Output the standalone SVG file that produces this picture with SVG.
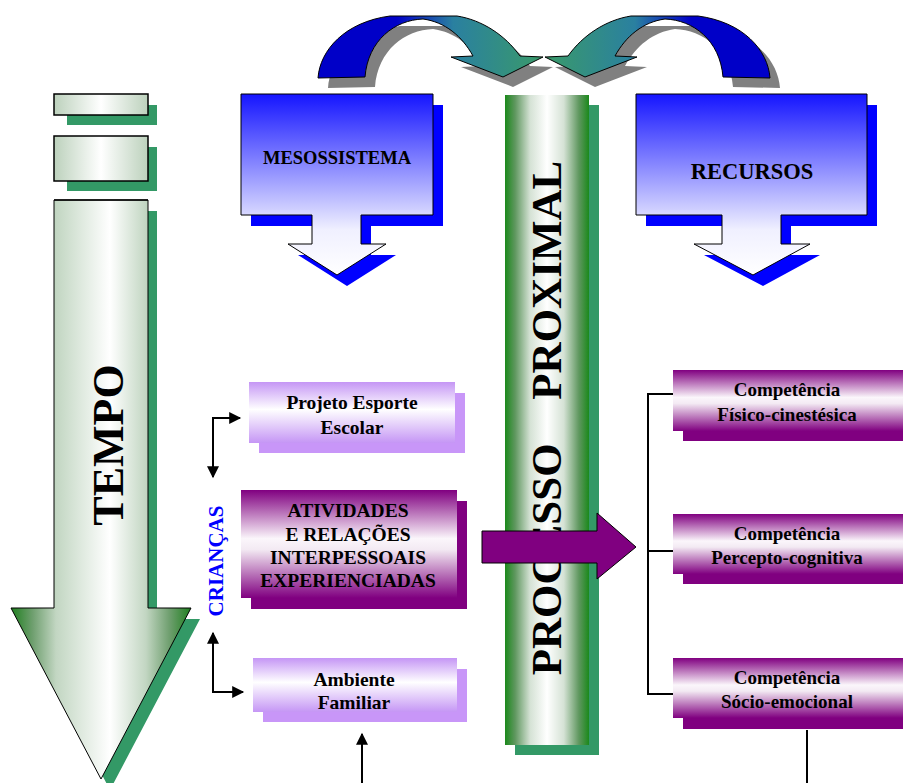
<svg xmlns="http://www.w3.org/2000/svg" width="903" height="783" viewBox="0 0 903 783">
<defs>
<linearGradient id="gGreenH" x1="0" y1="0" x2="1" y2="0">
<stop offset="0" stop-color="#1f7f1f"/><stop offset="0.12" stop-color="#6f9f6f"/><stop offset="0.25" stop-color="#c2d6c2"/><stop offset="0.55" stop-color="#ffffff"/><stop offset="0.75" stop-color="#c2d6c2"/><stop offset="0.88" stop-color="#6f9f6f"/><stop offset="1" stop-color="#1f7f1f"/>
</linearGradient>
<linearGradient id="gCol" x1="0" y1="0" x2="1" y2="0">
<stop offset="0" stop-color="#1b891b"/><stop offset="0.12" stop-color="#5f975f"/><stop offset="0.3" stop-color="#d5e2d5"/><stop offset="0.5" stop-color="#ffffff"/><stop offset="0.7" stop-color="#d5e2d5"/><stop offset="0.88" stop-color="#5f975f"/><stop offset="1" stop-color="#1b891b"/>
</linearGradient>
<linearGradient id="gBox" x1="0" y1="0" x2="1" y2="0">
<stop offset="0" stop-color="#bcd1bc"/><stop offset="0.5" stop-color="#ffffff"/><stop offset="1" stop-color="#bcd1bc"/>
</linearGradient>
<linearGradient id="gBlue" x1="0" y1="0" x2="0" y2="1">
<stop offset="0" stop-color="#1515ff"/><stop offset="0.75" stop-color="#f0f0ff"/><stop offset="1" stop-color="#ffffff"/>
</linearGradient>
<linearGradient id="gCurveL" x1="0" y1="0" x2="1" y2="0">
<stop offset="0" stop-color="#0000c8"/><stop offset="0.35" stop-color="#0000c8"/><stop offset="0.6" stop-color="#2a80a0"/><stop offset="1" stop-color="#3a9a6a"/>
</linearGradient>
<linearGradient id="gLav" x1="0" y1="0" x2="0" y2="1">
<stop offset="0" stop-color="#c596f5"/><stop offset="0.45" stop-color="#ffffff"/><stop offset="1" stop-color="#c596f5"/>
</linearGradient>
<linearGradient id="gPur" x1="0" y1="0" x2="0" y2="1">
<stop offset="0" stop-color="#800080"/><stop offset="0.45" stop-color="#fbf6fb"/><stop offset="0.55" stop-color="#f3eaf3"/><stop offset="1" stop-color="#800080"/>
</linearGradient>
<marker id="ah" viewBox="0 0 10 10" refX="9" refY="5" markerUnits="userSpaceOnUse" markerWidth="13" markerHeight="12" orient="auto-start-reverse">
<path d="M0,0 L10,5 L0,10 z" fill="#000"/>
</marker>
<path id="curveL" d="M318,78 C320,50 345,22 390,16 L457,16 C482,20 505,35 520,56 L543,57 L503,77 L451,57 L473,56 C462,36 445,22 423,19 C395,20 368,40 365,77 Z"/>
</defs>
<style>
.t{font-family:"Liberation Serif","Times New Roman",serif;font-weight:bold;fill:#000;text-anchor:middle}
.ln{fill:none;stroke:#000;stroke-width:2}
.ol{stroke:#000;stroke-width:1.5}
</style>

<!-- top curved arrows -->
<g id="curved-arrows">
<use href="#curveL" fill="#808080" transform="translate(10,10)"/>
<use href="#curveL" fill="#808080" transform="translate(1098,10) scale(-1,1)"/>
<use href="#curveL" fill="url(#gCurveL)" stroke="#000" stroke-width="1"/>
<use href="#curveL" fill="url(#gCurveL)" stroke="#000" stroke-width="1" transform="translate(1088,0) scale(-1,1)"/>
</g>

<!-- TEMPO -->
<g id="tempo">
<rect x="67" y="105" width="90" height="20" fill="#339966"/>
<rect x="54" y="94" width="94" height="21" fill="url(#gBox)" class="ol"/>
<rect x="67" y="147" width="90" height="44" fill="#339966"/>
<rect x="54" y="136" width="94" height="45" fill="url(#gBox)" class="ol"/>
<polygon points="63,211 157,211 157,619 200,619 110,790 20,619 63,619" fill="#339966"/>
<polygon points="54,200 148,200 148,608 191,608 101,779 11,608 54,608" fill="url(#gGreenH)" stroke="#000" stroke-width="1"/>
<line x1="54" y1="200" x2="148" y2="200" stroke="#000" stroke-width="1.5"/>
<text class="t" font-size="44" transform="translate(123,445) rotate(-90)">TEMPO</text>
</g>

<!-- MESOSSISTEMA -->
<g id="mesossistema">
<polygon points="251,105 443,105 443,226 371,226 371,255 396,255 347,286 298,255 322,255 322,226 251,226" fill="#0000ff"/>
<polygon points="241,94 433,94 433,215 361,215 361,244 386,244 337,275 288,244 312,244 312,215 241,215" fill="url(#gBlue)" stroke="#000" stroke-width="1"/>
<text class="t" font-size="18.5" x="337" y="164">MESOSSISTEMA</text>
</g>

<!-- RECURSOS -->
<g id="recursos">
<polygon points="646,105 877,105 877,226 791,226 791,255 820,255 763,286 704,255 732,255 732,226 646,226" fill="#0000ff"/>
<polygon points="636,94 867,94 867,215 781,215 781,244 810,244 753,275 694,244 722,244 722,215 636,215" fill="url(#gBlue)" stroke="#000" stroke-width="1"/>
<text class="t" font-size="22.5" x="752" y="179">RECURSOS</text>
</g>

<!-- PROCESSO PROXIMAL -->
<g id="processo-proximal">
<rect x="515" y="105" width="84" height="650" fill="#339966"/>
<rect x="505" y="95" width="84" height="650" fill="url(#gCol)"/>
<text class="t" font-size="43" word-spacing="33" transform="translate(561,418) rotate(-90)">PROCESSO PROXIMAL</text>
</g>

<!-- left column boxes -->
<g id="projeto">
<rect x="259" y="393" width="206" height="60" fill="#c896f8"/>
<rect x="249" y="382" width="206" height="61" fill="url(#gLav)"/>
<text class="t" font-size="19.5" x="352" y="409">Projeto Esporte</text>
<text class="t" font-size="19.5" x="352" y="434">Escolar</text>
</g>
<g id="atividades">
<rect x="251" y="501" width="216" height="108" fill="#800080"/>
<rect x="241" y="490" width="216" height="108" fill="url(#gPur)"/>
<text class="t" font-size="19.5" x="348" y="517">ATIVIDADES</text>
<text class="t" font-size="19.5" x="348" y="541">E RELAÇÕES</text>
<text class="t" font-size="19.5" x="348" y="564">INTERPESSOAIS</text>
<text class="t" font-size="19.5" x="348" y="587">EXPERIENCIADAS</text>
</g>
<g id="ambiente">
<rect x="263" y="669" width="204" height="53" fill="#c896f8"/>
<rect x="253" y="658" width="204" height="54" fill="url(#gLav)"/>
<text class="t" font-size="19.5" x="354" y="686">Ambiente</text>
<text class="t" font-size="19.5" x="354" y="709">Familiar</text>
</g>
<g id="criancas">
<text font-family="Liberation Serif, serif" font-weight="bold" font-size="21" fill="#0000ff" text-anchor="middle" transform="translate(223,561) rotate(-90)">CRIANÇAS</text>
</g>

<!-- big purple arrow -->
<g id="big-arrow">
<polygon points="482,531 597,531 597,513 636,547 597,579 597,563 482,563" fill="#800080" stroke="#000" stroke-width="1"/>
</g>

<!-- competence boxes -->
<g id="comp1">
<rect x="683" y="381" width="220" height="60" fill="#800080"/>
<rect x="673" y="370" width="230" height="61" fill="url(#gPur)"/>
<text class="t" font-size="19" x="787" y="396">Competência</text>
<text class="t" font-size="19" x="787" y="421">Físico-cinestésica</text>
</g>
<g id="comp2">
<rect x="683" y="525" width="220" height="59" fill="#800080"/>
<rect x="673" y="514" width="230" height="60" fill="url(#gPur)"/>
<text class="t" font-size="19" x="787" y="540">Competência</text>
<text class="t" font-size="19" x="787" y="564">Percepto-cognitiva</text>
</g>
<g id="comp3">
<rect x="683" y="669" width="220" height="60" fill="#800080"/>
<rect x="673" y="658" width="230" height="60" fill="url(#gPur)"/>
<text class="t" font-size="19" x="787" y="684">Competência</text>
<text class="t" font-size="19" x="787" y="708">Sócio-emocional</text>
</g>

<!-- connectors -->
<g id="connectors">
<path class="ln" d="M213,477 L213,418 L240,418" marker-start="url(#ah)" marker-end="url(#ah)"/>
<path class="ln" d="M213,633 L213,692 L243,692" marker-start="url(#ah)" marker-end="url(#ah)"/>
<path class="ln" d="M362,783 L362,734" marker-end="url(#ah)"/>
<path class="ln" d="M673,394 L648,394 L648,694 L673,694"/>
<path class="ln" d="M648,551 L673,551"/>
<path class="ln" d="M807,730 L807,783"/>
</g>
</svg>
